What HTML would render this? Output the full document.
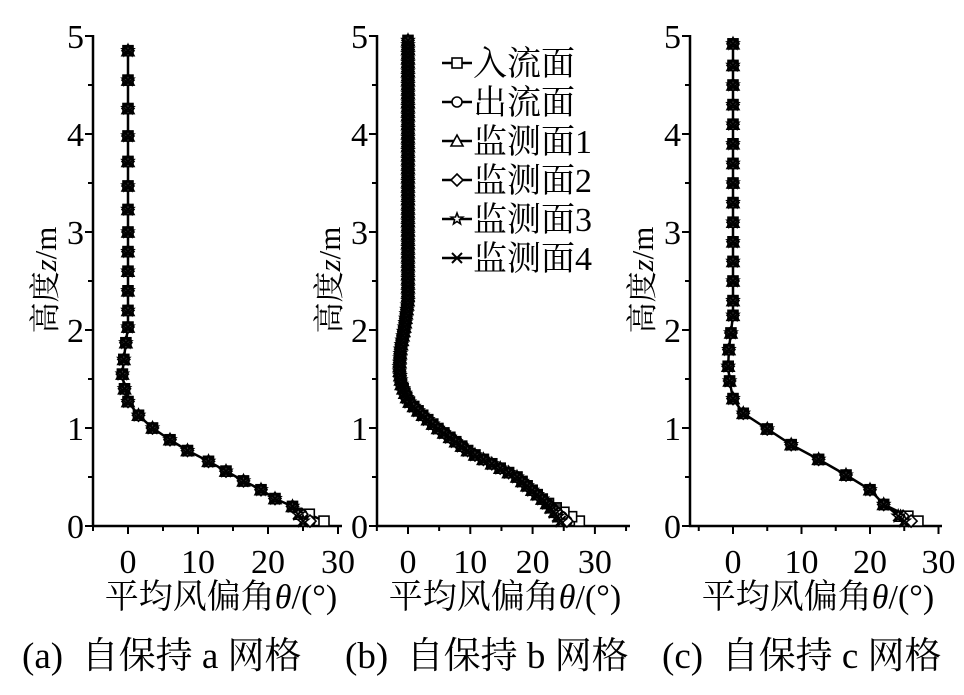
<!DOCTYPE html>
<html><head><meta charset="utf-8"><style>
body{margin:0;background:#fff}
svg text{font-family:"Liberation Serif","Noto Serif CJK SC",serif;fill:#000}
</style></head><body>
<svg id="s" width="964" height="690" xmlns="http://www.w3.org/2000/svg"></svg>
<script>
const S=document.getElementById('s');let h='';
const Y0=526,YS=98;
function interp(p,z){for(let i=0;i<p.length-1;i++){if(z>=p[i][1]&&z<=p[i+1][1]){const t=(z-p[i][1])/(p[i+1][1]-p[i][1]);return p[i][0]+t*(p[i+1][0]-p[i][0]);}}return p[p.length-1][0];}
function panel(o){
 const X=v=>o.x0+(v)*o.sc;const Y=z=>Y0-z*YS;
 h+=`<line x1="${o.ax}" y1="${Y0}" x2="${o.ax}" y2="35" stroke="#000" stroke-width="2.5"/>`;
 h+=`<line x1="${o.ax-1}" y1="${Y0}" x2="${o.axe}" y2="${Y0}" stroke="#000" stroke-width="2.5"/>`;
 for(let z=0;z<=5;z+=0.5){const big=z%1==0;h+=`<line x1="${o.ax-(big?8:5)}" y1="${Y(z)}" x2="${o.ax}" y2="${Y(z)}" stroke="#000" stroke-width="2"/>`;if(big)h+=`<text x="${o.ax-9}" y="${Y(z)+12}" font-size="34" text-anchor="end">${z}</text>`;}
 for(let v=o.tmin;v<=o.tmax;v+=5){const big=v%10==0;h+=`<line x1="${X(v)}" y1="${Y0}" x2="${X(v)}" y2="${Y0+(big?8:5)}" stroke="#000" stroke-width="2"/>`;if(big&&v>=0&&v<=30)h+=`<text x="${X(v)}" y="573" font-size="34" text-anchor="middle">${v}</text>`;}
 h+=`<text x="${o.ax+128}" y="608" font-size="34" text-anchor="middle">平均风偏角<tspan font-style="italic">θ</tspan>/(°)</text>`;
 h+=`<text transform="translate(${o.ax-37},280) rotate(-90)" font-size="31" text-anchor="middle">高度<tspan font-style="italic">z</tspan>/m</text>`;
 for(let k=0;k<6;k++){
  const p=o.prof.map((q,i)=>[i==0?q[0]+o.b[k]:q[0],q[1]]);
  let d='';p.forEach((q,i)=>d+=(i?'L':'M')+X(q[0]).toFixed(1)+','+Y(q[1]).toFixed(1));
  h+=`<path d="${d}" fill="none" stroke="#000" stroke-width="${k==0?2.5:1.5}"/>`;
 }
 for(let k=0;k<6;k++){
  const p=o.prof.map((q,i)=>[i==0?q[0]+o.b[k]:q[0],q[1]]);
  o.zs.forEach(z=>{const x=X(interp(p,z)),y=Y(z);h+=mk(k,x,y,z<0.15?'#fff':'#444');});
 }
}
function mk(k,x,y,f){const r=5;const st='stroke="#000" stroke-width="1.6" fill="'+f+'"';
 if(k==0)return `<rect x="${x-r}" y="${y-r}" width="${2*r}" height="${2*r}" ${st}/>`;
 if(k==1)return `<circle cx="${x}" cy="${y}" r="${r}" ${st}/>`;
 if(k==2)return `<polygon points="${x},${y-r-1} ${x+r+1},${y+r} ${x-r-1},${y+r}" ${st}/>`;
 if(k==3)return `<polygon points="${x},${y-r-1} ${x+r+1},${y} ${x},${y+r+1} ${x-r-1},${y}" ${st}/>`;
 if(k==4){let pts='';for(let i=0;i<10;i++){const a=-Math.PI/2+i*Math.PI/5,rr=i%2?2.5:r+1;pts+=(x+rr*Math.cos(a)).toFixed(1)+','+(y+rr*Math.sin(a)).toFixed(1)+' ';}return `<polygon points="${pts}" ${st}/>`;}
 return `<path d="M${x-r},${y-r}L${x+r},${y+r}M${x-r},${y+r}L${x+r},${y-r}" stroke="#000" stroke-width="2"/>`;}
const profA=[[25,0.05],[23.5,0.2],[21,0.28],[19,0.37],[16.5,0.46],[14,0.56],[11.5,0.66],[8.5,0.77],[6,0.88],[3.5,1.0],[1.5,1.13],[0,1.27],[-0.5,1.4],[-0.8,1.55],[-0.6,1.7],[-0.3,1.87],[0,2.03],[0,4.85]];
const zsA=[0.05,0.12,0.2,0.28,0.37,0.46,0.56,0.66,0.77,0.88,1.0,1.13,1.27,1.4,1.55,1.7,1.87,2.03,2.2,2.4,2.6,2.8,3.0,3.23,3.47,3.72,3.98,4.26,4.55,4.85];
panel({ax:93,axe:342,x0:128,sc:7,tmin:-5,tmax:30,prof:profA,zs:zsA,b:[3,1,0.5,1,0,0]});
const profB=[[24.5,0.05],[22,0.25],[17.5,0.5],[13,0.65],[10,0.75],[4.7,1.0],[2,1.15],[0,1.28],[-1.1,1.45],[-1.4,1.6],[-1.2,1.8],[-0.5,2.05],[0,2.3],[0,4.95]];
const zsB=[];for(let z=0.05;z<=4.96;z+=0.045)zsB.push(z);
panel({ax:377,axe:630,x0:408,sc:6.23,tmin:-5,tmax:35,prof:profB,zs:zsB,b:[3,1,0.5,1,0,0]});
const profC=[[25,0.05],[22,0.22],[20,0.37],[16.5,0.52],[12.5,0.68],[8.5,0.83],[5,0.99],[1.5,1.15],[0,1.3],[-0.5,1.48],[-0.7,1.63],[-0.6,1.8],[-0.3,1.97],[0,2.15],[0,4.92]];
const zsC=[0.05,0.1,0.22,0.37,0.52,0.68,0.83,0.99,1.15,1.3,1.48,1.63,1.8,1.97,2.15,2.3,2.5,2.7,2.9,3.1,3.3,3.5,3.7,3.9,4.1,4.3,4.5,4.7,4.92];
panel({ax:690,axe:942,x0:733,sc:6.85,tmin:-5,tmax:30,prof:profC,zs:zsC,b:[2,0.5,0.5,1,0,0]});
const L=['入流面','出流面','监测面1','监测面2','监测面3','监测面4'];
L.forEach((t,k)=>{const y=63+k*39;h+=`<line x1="442" y1="${y}" x2="472" y2="${y}" stroke="#000" stroke-width="2.5"/>`+mk(k,457,y,'#fff')+`<text x="473" y="${y+12}" font-size="34">${t}</text>`;});
h+=`<text x="22" y="668" font-size="37" xml:space="preserve">(a)  自保持 a 网格</text>`;
h+=`<text x="345" y="668" font-size="37" xml:space="preserve">(b)  自保持 b 网格</text>`;
h+=`<text x="662" y="668" font-size="37" xml:space="preserve">(c)  自保持 c 网格</text>`;
S.innerHTML=h;
</script>
</body></html>
